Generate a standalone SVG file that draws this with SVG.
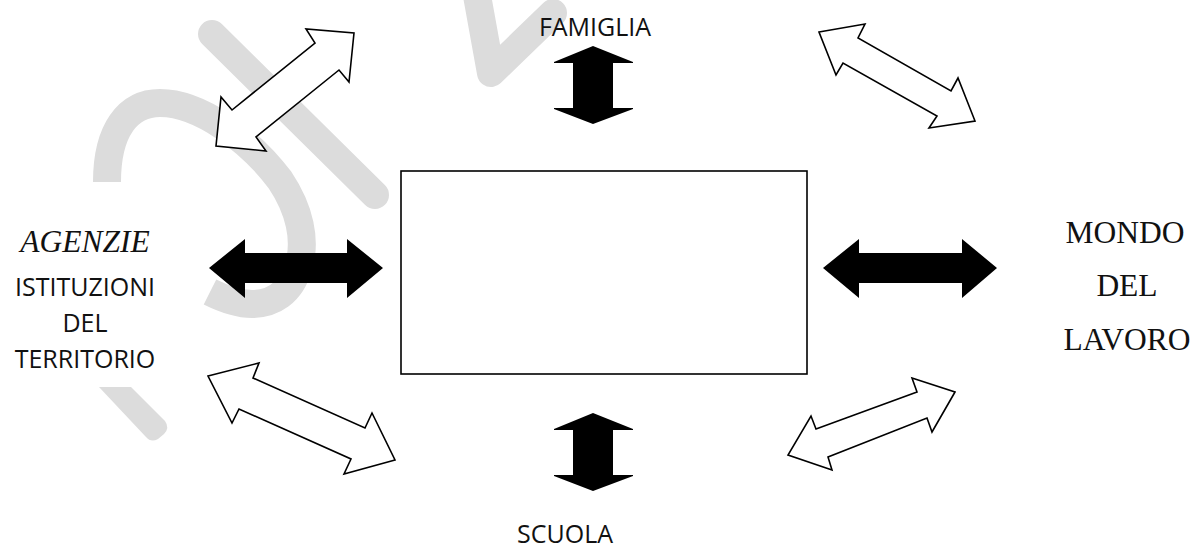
<svg xmlns="http://www.w3.org/2000/svg" width="1195" height="550" viewBox="0 0 1195 550">
<style>
.wm{fill:none;stroke:#dcdcdc;stroke-width:28}
.solid{fill:#000;stroke:none}
.hollow{fill:#fff;stroke:#000;stroke-width:1.6;stroke-linejoin:miter}
.sans{font-family:"Open Sans","Noto Sans","Liberation Sans",sans-serif;font-size:25px;fill:#111;text-anchor:middle}
.serif{font-family:"Liberation Serif","Times New Roman",serif;font-size:31.5px;fill:#111;text-anchor:middle}
</style>
<rect width="1195" height="550" fill="#fff"/>
<g id="watermark">
<path class="wm" d="M107,182 C107,130 128,103 160,103 C200,103 250,140 280,180 C300,210 306,240 299,265 C291,294 272,304 252,304 C236,304 222,298 210,292" stroke-linecap="butt"/>
<path class="wm" d="M212,34 L375,195" stroke-linecap="round"/>
<path class="wm" d="M476,-10 L491,73 L553,13" stroke-linecap="round" stroke-linejoin="round"/>
<path d="M99,387 L131,387 L165,421 Q170,428 164,434 L158,439 Q151,443 146,437 Z" fill="#dcdcdc"/>
</g>
<g id="centre-box">
<rect x="401" y="171" width="406" height="203" fill="none" stroke="#000" stroke-width="1.6"/>
</g>
<g id="connectors">
<polygon class="hollow" points="354,33 349,82 339,70 256,137 266,151 216,146 221,97 232,110 315,43 306,29"/>
<polygon class="hollow" points="819,32 865,24 858,38 951,91 958,78 975,121 929,128 937,116 843,63 836,75"/>
<polygon class="hollow" points="208,376 259,363 253,378 365,428 372,413 395,460 344,474 351,459 239,409 232,423"/>
<polygon class="hollow" points="955,392 932,432 927,418 828,457 832,470 788,455 811,416 816,429 917,392 912,378"/>
<polygon class="solid" points="593,46 633,62 633,63 613,63 613,108 633,108 633,109 593,124 554,109 554,108 573,108 573,63 554,63 554,62"/>
<polygon class="solid" points="593,413 633,429 633,430 613,430 613,475 633,475 633,476 593,491 554,476 554,475 573,475 573,430 554,430 554,429"/>
<polygon class="solid" points="209,268 245,239 245,253 347,253 347,239 383,268 347,298 347,283 245,283 245,298"/>
<polygon class="solid" points="823,268 859,239 859,253 962,253 962,239 997,268 962,298 962,283 859,283 859,298"/>
</g>
<g id="famiglia">
<text class="sans" x="595" y="36">FAMIGLIA</text>
</g>
<g id="scuola">
<text class="sans" x="565" y="543">SCUOLA</text>
</g>
<g id="agenzie">
<text class="serif" x="85" y="252" font-style="italic" font-size="30.5">AGENZIE</text>
<text class="sans" x="85" y="296">ISTITUZIONI</text>
<text class="sans" x="85" y="332">DEL</text>
<text class="sans" x="85" y="368">TERRITORIO</text>
</g>
<g id="mondo-lavoro">
<text class="serif" x="1125" y="243">MONDO</text>
<text class="serif" x="1127" y="296">DEL</text>
<text class="serif" x="1127" y="350">LAVORO</text>
</g>
</svg>
